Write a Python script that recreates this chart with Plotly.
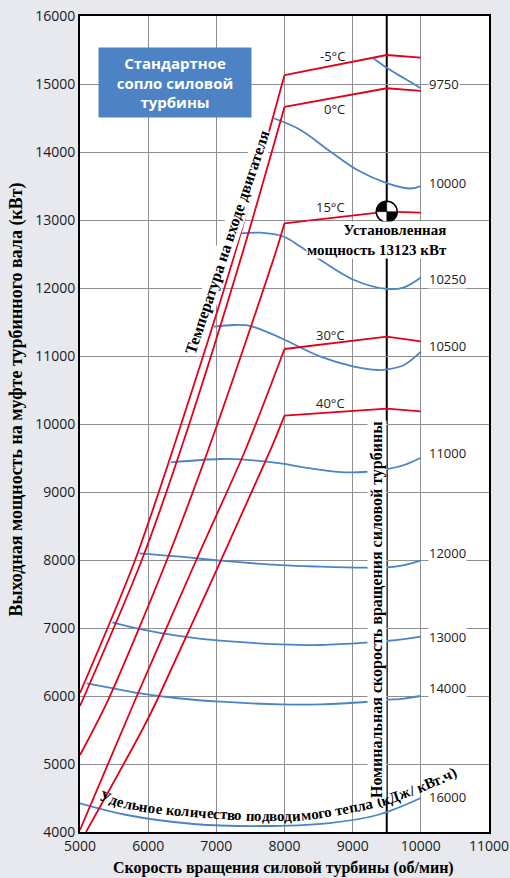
import math
import plotly.graph_objects as go

# ---- engine inlet temperature lines (power vs. power-turbine speed) ----
temp_labels = ["-5°C", "0°C", "15°C", "30°C", "40°C"]
# rising part up to the 8000 rpm corner
temp_rise_x = [
    [5000, 5809, 6456, 7265, 8000],
    [5000, 5907, 6574, 7397, 8000],
    [5000, 5412, 6275, 6985, 7882, 8000],
    [5000, 5809, 6706, 7426, 8000],
    [5088, 5912, 6132, 7794, 8000],
]
temp_rise_y = [
    [6044, 8000, 9912, 12485, 15132],
    [5853, 8000, 9912, 12559, 14662],
    [5132, 5941, 8000, 9912, 12559, 12951],
    [4030, 5941, 8000, 9618, 11103],
    [4000, 5500, 5941, 9618, 10122],
]
# flat part: 8000, 9500 and 10000 rpm
temp_top_x = [8000, 9500, 10000]
temp_top_y = [
    [15132, 15426, 15387],
    [14662, 14937, 14900],
    [12951, 13123, 13107],
    [11103, 11284, 11216],
    [10122, 10225, 10187],
]
temp_label_y = [15412, 14632, 13191, 11309, 10309]

# ---- heat rate curves, kJ/kWh ----
heat_labels = ["9750", "10000", "10250", "10500", "11000", "12000", "13000", "14000", "16000"]
heat_x = [
    [9304, 9510, 9755, 10000],
    [7843, 8235, 8676, 9069, 9510, 9853, 10000],
    [7353, 7647, 7990, 8235, 8529, 9020, 9510, 9755, 10000],
    [6961, 7255, 7500, 7794, 8040, 8529, 9020, 9363, 9510, 9755, 10000],
    [6333, 7059, 7353, 7941, 8284, 8775, 9167, 9485, 9755, 10000],
    [5873, 6471, 7059, 7941, 8529, 9167, 9485, 9755, 10000],
    [5475, 5882, 6471, 7059, 7941, 8529, 9191, 9485, 9755, 10000],
    [5098, 5490, 5882, 6471, 7059, 7941, 8529, 9191, 9485, 9755, 10000],
    [5000, 5686, 6667, 7647, 8628, 9363, 10000],
]
heat_y = [
    [15378, 15230, 15084, 14937],
    [14496, 14324, 14004, 13735, 13539, 13463, 13500],
    [12803, 12813, 12754, 12607, 12412, 12118, 11985, 12010, 12154],
    [11431, 11456, 11441, 11333, 11220, 10990, 10843, 10794, 10804, 10868, 11063],
    [9437, 9485, 9481, 9420, 9363, 9297, 9294, 9333, 9397, 9504],
    [8098, 8049, 7990, 7925, 7902, 7887, 7890, 7926, 7996],
    [7084, 6985, 6882, 6813, 6760, 6750, 6784, 6809, 6838, 6872],
    [6187, 6113, 6039, 5963, 5916, 5877, 5877, 5912, 5941, 5963, 6000],
    [4422, 4250, 4118, 4088, 4128, 4250, 4500],
]
heat_label_y = [15000, 13544, 12132, 11147, 9574, 8103, 6868, 6118, 4515]

# ---- rated point ----
rated_speed = 9500
rated_power = 13123

# curved heat-rate caption and the line it follows (data units)
caption_text = "Удельное количество подводимого тепла (кДж/ кВт.ч)"
caption_path_x = [5352, 5792, 6848, 8081, 9049, 9694, 10281, 10545]
caption_path_y = [4529, 4397, 4279, 4235, 4368, 4544, 4779, 4912]

RED = "#e2001a"
BLUE = "#4a84c6"
SERIF = "Liberation Serif"
SANS = "Open Sans"

# plot-area geometry (pixels)
W, H = 510, 878
ML, MR, MT, MB = 80, 21, 16, 46
X0, X1, Y0, Y1 = 5000, 11000, 4000, 16000
PW, PH = W - ML - MR, H - MT - MB


def to_px(x, y):
    return ML + (x - X0) / (X1 - X0) * PW, MT + (Y1 - y) / (Y1 - Y0) * PH


def to_data(px, py):
    return X0 + (px - ML) / PW * (X1 - X0), Y1 - (py - MT) / PH * (Y1 - Y0)


fig = go.Figure()

for xs, ys in zip(heat_x, heat_y):
    fig.add_trace(go.Scatter(x=xs, y=ys, mode="lines",
                             line=dict(color=BLUE, width=1.8, shape="spline", smoothing=1.0),
                             hoverinfo="skip", showlegend=False))

for xs, ys, ts in zip(temp_rise_x, temp_rise_y, temp_top_y):
    fig.add_trace(go.Scatter(x=xs, y=ys, mode="lines",
                             line=dict(color=RED, width=1.8, shape="spline", smoothing=0.8),
                             hoverinfo="skip", showlegend=False))
    fig.add_trace(go.Scatter(x=temp_top_x, y=ts, mode="lines",
                             line=dict(color=RED, width=1.8),
                             hoverinfo="skip", showlegend=False))

annotations = []

for lab, y in zip(temp_labels, temp_label_y):
    annotations.append(dict(x=8910, y=y, xref="x", yref="y", text=lab, showarrow=False,
                            xanchor="right", yanchor="middle",
                            font=dict(family=SANS, size=13, color="#1a1a1a")))

for lab, y in zip(heat_labels, heat_label_y):
    annotations.append(dict(x=10110, y=y, xref="x", yref="y", text=lab, showarrow=False,
                            xanchor="left", yanchor="middle", bgcolor="white", borderpad=0,
                            font=dict(family=SANS, size=13, color="#1a1a1a")))

# --- curved caption: one annotation per character along a smooth path ---
CHAR_EM = {
    "а": .50, "б": .50, "в": .48, "г": .40, "д": .50, "е": .444, "ж": .74, "з": .42,
    "и": .56, "й": .56, "к": .54, "л": .54, "м": .66, "н": .56, "о": .50, "п": .56,
    "р": .556, "с": .444, "т": .46, "у": .50, "ф": .70, "х": .50, "ц": .56, "ч": .54,
    "ш": .80, "щ": .80, "ы": .74, "ь": .50, "я": .54, "У": .70, "Д": .68, "В": .667,
    "(": .333, ")": .333, "/": .278, ".": .25, " ": .25,
}
CAP_SIZE = 15
pts = [to_px(x, y) for x, y in zip(caption_path_x, caption_path_y)]
dense = []
ext = [pts[0]] + pts + [pts[-1]]
for i in range(1, len(ext) - 2):
    p0, p1, p2, p3 = ext[i - 1], ext[i], ext[i + 1], ext[i + 2]
    for j in range(20):
        t = j / 20
        t2, t3 = t * t, t * t * t
        dense.append(tuple(0.5 * ((2 * p1[k]) + (-p0[k] + p2[k]) * t +
                                  (2 * p0[k] - 5 * p1[k] + 4 * p2[k] - p3[k]) * t2 +
                                  (-p0[k] + 3 * p1[k] - 3 * p2[k] + p3[k]) * t3)
                           for k in range(2)))
dense.append(pts[-1])
cum = [0.0]
for a, b in zip(dense[:-1], dense[1:]):
    cum.append(cum[-1] + math.hypot(b[0] - a[0], b[1] - a[1]))


def point_at(s):
    s = max(0.0, min(cum[-1], s))
    for i in range(1, len(cum)):
        if cum[i] >= s:
            a, b = dense[i - 1], dense[i]
            f = (s - cum[i - 1]) / max(cum[i] - cum[i - 1], 1e-9)
            ang = math.degrees(math.atan2(b[1] - a[1], b[0] - a[0]))
            return a[0] + f * (b[0] - a[0]), a[1] + f * (b[1] - a[1]), ang
    a, b = dense[-2], dense[-1]
    return b[0], b[1], math.degrees(math.atan2(b[1] - a[1], b[0] - a[0]))


widths = [CHAR_EM.get(c, .5) * CAP_SIZE * 1.015 for c in caption_text]
total = sum(widths)
s = (cum[-1] - total) / 2 - 3
for c, w in zip(caption_text, widths):
    if c != " ":
        px, py, ang = point_at(s + w / 2)
        dx, dy = to_data(px, py)
        annotations.append(dict(x=dx, y=dy, xref="x", yref="y", text=c, showarrow=False,
                                textangle=ang, xanchor="center", yanchor="middle",
                                font=dict(family=SERIF, size=CAP_SIZE, color="black",
                                          weight="bold")))
    s += w

# nominal speed caption along the vertical line
annotations.append(dict(x=9350, y=7272, xref="x", yref="y",
                        text="<b>Номинальная скорость вращения силовой турбины</b>",
                        showarrow=False, textangle=-90, bgcolor="white", borderpad=0,
                        font=dict(family=SERIF, size=16, color="black")))

# rated power caption
annotations.append(dict(x=10397, y=12700, xref="x", yref="y",
                        text="<b>Установленная<br>мощность 13123 кВт</b>",
                        showarrow=False, xanchor="right", yanchor="middle", align="right",
                        bgcolor="white", borderpad=0,
                        font=dict(family=SERIF, size=15, color="black")))

# inlet temperature caption
annotations.append(dict(x=7157, y=12669, xref="x", yref="y",
                        text="<b>Температура на входе двигателя</b>",
                        showarrow=False, textangle=-71.4, bgcolor="white", borderpad=0,
                        font=dict(family=SERIF, size=16, color="black")))

# nozzle box
annotations.append(dict(x=0.2323, y=0.9185, xref="paper", yref="paper",
                        xanchor="center", yanchor="middle",
                        text="<b>Стандартное<br>сопло силовой<br>турбины</b>",
                        showarrow=False, width=152, height=69, bgcolor="#4d82c4", borderpad=0,
                        align="center", valign="middle",
                        font=dict(family=SANS, size=15, color="white")))

# axis titles
annotations.append(dict(x=0.4976, y=-0.0441, xref="paper", yref="paper",
                        text="<b>Скорость вращения силовой турбины (об/мин)</b>",
                        showarrow=False, xanchor="center", yanchor="middle",
                        font=dict(family=SERIF, size=16, color="black")))
annotations.append(dict(x=-0.154, y=0.53, xref="paper", yref="paper",
                        text="<b>Выходная мощность на муфте турбинного вала (кВт)</b>",
                        showarrow=False, textangle=-90, xanchor="center", yanchor="middle",
                        font=dict(family=SERIF, size=18, color="black")))

shapes = [
    dict(type="line", xref="x", yref="y", x0=rated_speed, x1=rated_speed, y0=Y0, y1=Y1,
         line=dict(color="black", width=2), layer="below"),
]

# rated point symbol: circle with two filled opposite quadrants
r = 154
k = 0.5523 * r
cx, cy = rated_speed, rated_power
shapes.append(dict(type="circle", xref="x", yref="y", x0=cx - r, x1=cx + r, y0=cy - r, y1=cy + r,
                   fillcolor="white", line=dict(color="black", width=1.5), layer="above"))
tl = f"M {cx},{cy} L {cx - r},{cy} C {cx - r},{cy + k} {cx - k},{cy + r} {cx},{cy + r} Z"
br = f"M {cx},{cy} L {cx + r},{cy} C {cx + r},{cy - k} {cx + k},{cy - r} {cx},{cy - r} Z"
for p in (tl, br):
    shapes.append(dict(type="path", xref="x", yref="y", path=p, fillcolor="black",
                       line=dict(color="black", width=0.5), layer="above"))

fig.update_layout(
    width=W, height=H,
    margin=dict(l=ML, r=MR, t=MT, b=MB, autoexpand=False),
    paper_bgcolor="#e7e9ee", plot_bgcolor="white",
    annotations=annotations, shapes=shapes,
    showlegend=False,
)
axis_common = dict(showgrid=True, gridcolor="#8f8f8f", gridwidth=1, zeroline=False,
                   showline=True, mirror=True, linecolor="black", linewidth=2,
                   tickformat="d", ticks="", automargin=False,
                   tickfont=dict(family=SANS, size=14, color="#1a1a1a"))
fig.update_xaxes(range=[X0, X1], dtick=1000, tick0=X0, **axis_common)
fig.update_yaxes(range=[Y0, Y1], dtick=1000, tick0=Y0, **axis_common)

fig.write_html("out.html")
